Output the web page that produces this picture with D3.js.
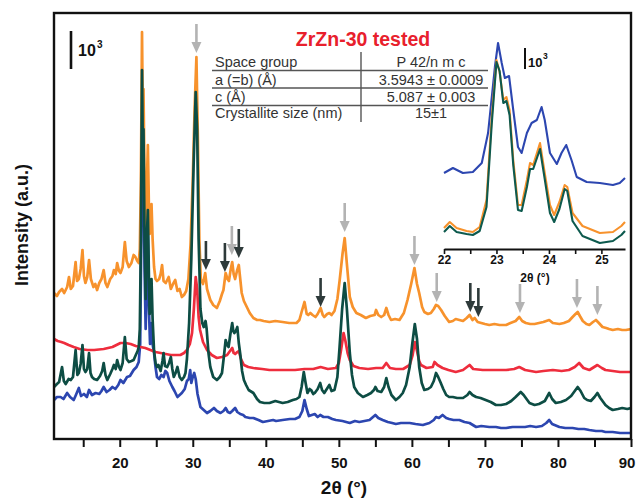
<!DOCTYPE html>
<html><head><meta charset="utf-8">
<script src="https://cdn.jsdelivr.net/npm/d3@7"></script>
<style>
body{margin:0;background:#fff}
svg{display:block}
text{font-family:"Liberation Sans",Arial,Helvetica,sans-serif}
</style>
</head><body>
<svg id="chart" width="636" height="498"></svg>
<script>
// ---------- DATA (2θ in degrees, intensity in arbitrary units) ----------
const orange = [[11.0,146],[11.4,143],[11.7,147],[12.1,150],[12.4,146],[12.8,152],[13.05,162],[13.3,150],[13.6,153],[13.96,177],[14.15,158],[14.4,160],[14.65,170],[14.9,189],[15.1,163],[15.3,156],[15.55,162],[15.8,179],[16.05,160],[16.4,152],[16.65,155],[16.9,149],[17.2,156],[17.5,160],[17.8,169],[18.05,156],[18.3,152],[18.7,160],[19.0,163],[19.2,169],[19.45,165],[19.65,176],[19.9,168],[20.1,166],[20.4,172],[20.7,197],[20.95,178],[21.25,172],[21.6,176],[21.9,184],[22.15,182],[22.4,178],[22.6,176],[22.75,190],[22.9,260],[23.05,407],[23.15,330],[23.25,350],[23.4,260],[23.55,207],[23.7,250],[23.85,294],[24.0,230],[24.1,205],[24.25,222],[24.35,235],[24.5,200],[24.7,172],[24.9,160],[25.1,158],[25.4,160],[25.6,165],[25.8,174],[26.0,158],[26.3,156],[26.7,162],[27.0,150],[27.3,155],[27.6,159],[27.9,148],[28.2,150],[28.5,142],[28.8,144],[29.1,148],[29.4,160],[29.7,195],[30.0,260],[30.25,330],[30.5,382],[30.7,300],[30.9,200],[31.1,160],[31.4,155],[31.7,166],[31.95,150],[32.4,139],[32.8,134],[33.3,131],[33.7,138],[34.0,145],[34.2,149],[34.5,166],[34.75,160],[34.95,158],[35.2,170],[35.4,177],[35.6,165],[35.8,160],[36.05,168],[36.3,174],[36.5,160],[36.7,146],[37.0,138],[37.4,132],[37.8,126],[38.3,121],[38.8,119],[39.2,119],[39.7,118],[40.5,117],[41.3,118],[42.3,117],[43.2,116],[44.2,116],[44.6,119],[44.9,127],[45.3,137],[45.6,125],[45.8,124],[46.1,126],[46.4,124],[46.8,122],[47.1,125],[47.5,131],[47.8,124],[48.0,122],[48.4,125],[48.7,126],[49.0,124],[49.4,128],[49.8,140],[50.1,158],[50.5,185],[50.8,201],[51.1,175],[51.5,142],[51.9,132],[52.4,126],[53.0,124],[53.7,121],[54.3,123],[54.9,124],[55.1,129],[55.4,124],[55.8,122],[56.2,124],[56.5,131],[56.8,124],[57.15,119],[57.7,120],[58.3,119],[58.9,126],[59.4,139],[59.9,155],[60.35,171],[60.7,155],[61.0,146],[61.4,132],[61.7,127],[62.2,125],[62.6,126],[63.0,130],[63.3,134],[63.6,133],[64.0,129],[64.5,123],[64.9,119],[65.1,117],[65.6,118],[66.0,120],[66.5,119],[67.0,118],[67.5,121],[67.9,124],[68.3,119],[68.6,121],[69.0,117],[69.5,116],[70.0,115],[70.6,114],[71.3,115],[72.0,114],[72.9,114],[73.5,116],[74.2,118],[74.7,122],[75.1,118],[75.6,116],[76.2,115],[76.8,115],[77.4,116],[78.0,117],[78.8,119],[79.3,116],[80.2,115],[80.8,116],[81.5,118],[82.0,122],[82.4,125],[82.7,127],[83.0,123],[83.4,118],[83.9,115],[84.3,114],[84.8,117],[85.2,119],[85.6,116],[86.1,112],[86.6,111],[87.0,110],[87.5,109],[88.2,110],[88.8,109],[89.3,109],[90.0,110]];

const red = [[11.0,100],[11.5,98],[12.0,97],[12.4,96],[13.0,94],[13.7,92],[14.5,90],[15.6,89],[16.5,89],[17.8,90],[19.0,92],[20.1,96],[20.8,96],[21.5,95],[22.2,93],[22.85,92],[23.5,91],[24.2,89],[24.9,87],[25.6,86],[26.3,85],[27.0,84],[27.7,84],[28.3,84],[28.8,86],[29.2,89],[29.6,95],[29.9,106],[30.15,130],[30.4,162],[30.6,150],[30.8,122],[31.0,109],[31.4,97],[31.95,89],[32.6,84],[33.3,81],[34.0,82],[34.7,84],[35.1,88],[35.4,91],[35.6,86],[35.8,85],[36.1,87],[36.3,88],[36.6,80],[37.0,74],[37.6,72],[38.3,71],[39.5,70],[40.5,69],[42.3,69],[44.0,69],[45.3,70],[46.5,70],[47.5,72],[48.5,70],[49.6,71],[50.0,76],[50.3,89],[50.65,106],[50.9,98],[51.2,86],[51.5,79],[52.0,73],[52.8,71],[54.0,70],[55.1,71],[56.0,71],[56.5,76],[57.0,71],[57.8,70],[58.8,70],[59.7,74],[60.1,84],[60.4,97],[60.7,88],[61.0,78],[61.25,74],[62.0,71],[62.85,72],[63.1,77],[63.5,74],[64.2,71],[65.0,69],[66.0,67],[67.0,69],[67.9,74],[68.4,70],[69.7,69],[71.0,69],[72.9,69],[74.0,70],[74.7,72],[75.5,69],[77.0,67],[78.0,68],[79.3,69],[80.5,68],[81.5,69],[82.3,72],[82.9,76],[83.5,71],[84.3,69],[85.4,74],[86.0,71],[86.5,69],[87.5,68],[88.5,67],[89.3,67],[90.0,67]];

const green = [[11.0,52],[11.4,55],[11.7,57],[12.1,72],[12.35,58],[12.6,55],[13.0,60],[13.3,59],[13.6,62],[13.96,89],[14.2,64],[14.4,66],[14.65,75],[14.9,94],[15.1,70],[15.3,67],[15.55,70],[15.8,86],[16.0,66],[16.2,62],[16.5,60],[16.9,59],[17.3,63],[17.6,68],[17.8,76],[18.05,64],[18.3,59],[18.7,65],[19.0,70],[19.2,74],[19.45,70],[19.65,79],[19.9,72],[20.1,69],[20.4,76],[20.7,102],[20.95,80],[21.25,77],[21.6,78],[21.9,79],[22.2,84],[22.45,88],[22.6,92],[22.75,110],[22.9,200],[23.05,369],[23.15,300],[23.25,310],[23.4,200],[23.55,140],[23.7,200],[23.85,229],[24.0,160],[24.1,125],[24.25,150],[24.35,160],[24.5,120],[24.7,88],[24.9,76],[25.1,72],[25.3,74],[25.6,68],[25.85,78],[26.0,86],[26.2,73],[26.5,72],[26.75,76],[27.0,82],[27.2,70],[27.4,62],[27.65,66],[27.9,72],[28.2,62],[28.5,59],[28.8,62],[29.0,66],[29.2,80],[29.5,116],[29.8,180],[30.1,270],[30.4,347],[30.6,310],[30.8,200],[31.05,130],[31.3,116],[31.5,112],[31.75,118],[31.9,110],[32.15,86],[32.4,72],[32.8,62],[33.3,59],[33.7,62],[34.0,66],[34.3,85],[34.5,99],[34.7,94],[34.9,92],[35.15,105],[35.4,116],[35.55,108],[35.7,106],[35.9,108],[36.1,112],[36.3,96],[36.5,85],[36.75,68],[37.0,59],[37.3,54],[37.65,49],[38.3,46],[38.8,40],[39.2,37],[39.8,36],[40.5,36],[41.3,38],[42.3,36],[43.0,37],[43.7,39],[44.2,40],[44.6,42],[44.9,52],[45.2,67],[45.45,56],[45.7,46],[46.0,50],[46.2,49],[46.5,45],[46.7,46],[47.1,50],[47.45,56],[47.7,49],[48.0,46],[48.35,50],[48.7,54],[49.0,48],[49.4,49],[49.8,62],[50.1,92],[50.45,130],[50.8,156],[51.1,130],[51.5,86],[51.8,64],[52.1,52],[52.6,46],[53.3,42],[53.9,44],[54.4,46],[54.8,49],[55.0,52],[55.3,48],[55.8,47],[56.2,52],[56.5,61],[56.8,52],[57.2,44],[57.8,39],[58.3,42],[58.75,46],[59.2,54],[59.7,72],[60.05,95],[60.4,115],[60.7,100],[61.0,72],[61.35,56],[61.7,49],[62.2,50],[62.6,52],[63.0,58],[63.3,66],[63.6,62],[63.9,57],[64.3,50],[64.7,44],[65.1,42],[65.6,42],[66.2,41],[67.0,41],[67.6,44],[67.9,47],[68.3,44],[68.8,42],[69.4,41],[70.1,39],[70.8,37],[71.5,34],[72.2,34],[72.9,35],[73.6,38],[74.2,42],[74.9,47],[75.3,44],[75.8,39],[76.1,36],[76.8,34],[77.4,35],[78.2,38],[78.8,46],[79.2,40],[79.7,36],[80.4,37],[81.1,39],[81.8,43],[82.3,48],[82.7,52],[83.1,48],[83.6,41],[84.0,39],[84.5,38],[85.0,42],[85.4,46],[85.8,41],[86.5,34],[87.0,31],[87.5,29],[88.2,30],[88.8,31],[89.5,30],[90.0,31]];

const blue = [[11.0,39],[11.4,42],[11.9,42],[12.3,40],[12.8,46],[13.2,42],[13.7,39],[14.0,44],[14.4,51],[14.7,43],[15.1,45],[15.5,42],[15.8,49],[16.2,44],[16.7,46],[17.2,45],[17.5,48],[17.8,52],[18.2,47],[18.6,49],[19.0,52],[19.4,50],[19.8,54],[20.1,59],[20.5,56],[21.0,62],[21.4,63],[21.9,69],[22.3,72],[22.6,77],[22.8,95],[22.95,200],[23.05,317],[23.15,260],[23.25,265],[23.4,170],[23.55,110],[23.7,160],[23.85,208],[24.0,130],[24.15,95],[24.3,110],[24.35,116],[24.5,95],[24.7,86],[24.9,72],[25.1,62],[25.4,60],[25.7,64],[26.0,62],[26.25,68],[26.5,66],[26.8,58],[27.2,52],[27.5,48],[27.9,42],[28.2,44],[28.5,46],[28.9,50],[29.2,58],[29.45,60],[29.65,69],[29.8,56],[30.0,62],[30.2,66],[30.4,60],[30.65,45],[31.05,32],[31.5,29],[31.95,26],[32.4,28],[32.9,31],[33.3,28],[33.8,26],[34.2,28],[34.5,31],[34.8,27],[35.1,26],[35.4,28],[35.8,31],[36.1,27],[36.5,25],[36.9,24],[37.2,22],[37.8,21],[38.3,21],[39.0,19],[39.6,17],[40.3,18],[41.0,19],[41.4,18],[42.3,19],[43.3,20],[44.0,20],[44.6,22],[45.0,28],[45.3,39],[45.6,30],[45.9,23],[46.3,24],[46.7,25],[47.1,22],[47.45,24],[47.9,22],[48.5,22],[49.1,20],[49.6,19],[50.5,18],[51.5,16],[52.2,18],[52.8,17],[53.5,18],[54.2,19],[55.0,24],[55.4,21],[56.0,19],[56.7,17],[57.3,16],[57.8,15],[58.5,16],[59.2,16],[59.7,16],[60.5,15],[61.5,14],[62.4,16],[63.0,19],[63.3,22],[63.7,21],[64.2,24],[64.7,21],[65.1,20],[65.7,19],[66.5,19],[67.2,17],[67.9,16],[68.8,12],[69.5,13],[70.6,12],[71.5,12],[72.2,11],[72.9,11],[73.8,12],[74.7,12],[75.5,12],[76.2,13],[77.0,12],[77.8,13],[78.4,16],[78.8,19],[79.2,15],[80.2,12],[81.0,11],[82.0,11],[82.8,10],[83.6,10],[84.3,9],[85.2,8],[86.0,8],[86.5,7],[87.5,7],[88.5,6],[89.7,6],[90.0,6]];

// inset (22–25.5°), its own intensity units
const insetBlue = [[22.0,76],[22.17,81],[22.36,76],[22.55,77],[22.72,86],[22.84,116],[22.97,182],[23.03,206],[23.1,186],[23.16,171],[23.24,173],[23.32,139],[23.41,102],[23.48,96],[23.58,116],[23.67,126],[23.77,129],[23.86,142],[23.92,129],[24.02,96],[24.15,85],[24.24,96],[24.33,104],[24.43,89],[24.53,72],[24.72,67],[24.97,66],[25.22,64],[25.35,66],[25.45,71]];
const insetOrange = [[22.0,21],[22.11,27],[22.24,21],[22.43,18],[22.55,17],[22.68,22],[22.81,49],[22.91,132],[23.0,189],[23.06,177],[23.13,149],[23.19,152],[23.25,139],[23.32,89],[23.41,44],[23.48,44],[23.58,69],[23.64,86],[23.7,84],[23.83,106],[23.92,76],[24.02,44],[24.1,34],[24.2,47],[24.3,64],[24.35,62],[24.45,36],[24.64,23],[24.97,16],[25.22,17],[25.38,23],[25.45,27]];
const insetGreen = [[22.0,17],[22.11,23],[22.24,17],[22.43,15],[22.55,14],[22.68,18],[22.81,42],[22.91,125],[23.0,187],[23.06,178],[23.13,146],[23.19,148],[23.25,134],[23.32,84],[23.41,39],[23.48,38],[23.58,62],[23.64,80],[23.7,80],[23.83,100],[23.92,70],[24.02,36],[24.1,27],[24.2,40],[24.3,60],[24.35,58],[24.45,28],[24.64,13],[24.97,6],[25.22,8],[25.38,14],[25.45,18]];

// reflection markers: [2θ, intensity at arrow tip]
const grayArrows = [[30.5,386],[35.35,184],[50.8,207],[60.35,174],[63.4,137],[74.8,126],[82.6,131],[85.4,124]];
const darkArrows = [[31.8,169],[34.4,167],[36.3,181],[47.5,132],[68.0,127],[69.1,122]];

const xTicks = [15,20,25,30,35,40,45,50,55,60,65,70,75,80,85,90];
const insetTicks = [22,22.5,23,23.5,24,24.5,25,25.5];

const tableRows = [["Space group","P 42/n m c"],["a (=b) (Å)","3.5943 ± 0.0009"],["c (Å)","5.087 ± 0.003"],["Crystallite size (nm)","15±1"]];
const titleText = "ZrZn-30 tested";

// ---------- DRAW ----------
const svg = d3.select("#chart");
const L = 54, R = 631, T = 13, B = 439;
const x = d3.scaleLinear().domain([11, 90]).range([L, R]);
const y = d3.scaleLinear().domain([0, 426]).range([B, T]);

svg.append("rect").attr("width",636).attr("height",498).attr("fill","#fff");

svg.append("defs").append("clipPath").attr("id","clip")
  .append("rect").attr("x",L).attr("y",T).attr("width",R-L).attr("height",B-T);

const line = d3.line().x(d=>x(d[0])).y(d=>y(d[1]));
const plot = svg.append("g").attr("clip-path","url(#clip)");
const series = [
  {d: blue, c: "#2c46b0"},
  {d: orange, c: "#f7922c"},
  {d: red, c: "#ee2d3d"},
  {d: green, c: "#0d4d44"}
];
series.forEach(s => plot.append("path").datum(s.d).attr("d", line)
  .attr("fill","none").attr("stroke", s.c).attr("stroke-width", 2.7)
  .attr("stroke-linejoin","round"));

// arrows
function arrow(g, d, color) {
  const xp = x(d[0]), yt = y(d[1]);
  const len = 29, hl = 11, hw = 5;
  g.append("line").attr("x1",xp).attr("x2",xp).attr("y1",yt-len).attr("y2",yt-hl+1)
    .attr("stroke",color).attr("stroke-width",2.6);
  g.append("path").attr("d",`M${xp-hw},${yt-hl} L${xp+hw},${yt-hl} L${xp},${yt} Z`).attr("fill",color);
}
const ag = svg.append("g");
grayArrows.forEach(d => arrow(ag, d, "#b3b3b3"));
darkArrows.forEach(d => arrow(ag, d, "#2e3a3a"));

// x axis
const xAxis = d3.axisBottom(x).tickValues(xTicks)
  .tickFormat(d => d % 10 === 0 ? d : "").tickSize(8).tickSizeOuter(0).tickPadding(10);
const gx = svg.append("g").attr("transform",`translate(0,${B})`).call(xAxis);
gx.select(".domain").remove();
gx.selectAll(".tick line").attr("stroke","#111").attr("stroke-width",2);
gx.selectAll(".tick text").attr("fill","#111").style("font-size","15px").style("font-weight","bold")
  .style("font-family","'Liberation Sans',Arial,sans-serif")
  .attr("dx", d => d === 90 ? "-4.5" : 0);

// frame
svg.append("rect").attr("x",L).attr("y",T).attr("width",R-L).attr("height",B-T)
  .attr("fill","none").attr("stroke","#111").attr("stroke-width",2.4);

// axis titles
svg.append("text").attr("x",344).attr("y",494).attr("text-anchor","middle")
  .style("font-size","19px").style("font-weight","bold").attr("fill","#111").text("2θ (°)");
svg.append("text").attr("transform","translate(28,225) rotate(-90)").attr("text-anchor","middle")
  .style("font-size","18px").style("font-weight","bold").attr("fill","#111").text("Intensity (a.u.)");

// main scale bar 10^3
svg.append("line").attr("x1",71).attr("x2",71).attr("y1",31).attr("y2",69).attr("stroke","#111").attr("stroke-width",2.6);
svg.append("text").attr("x",78).attr("y",56).style("font-size","16px").style("font-weight","bold").attr("fill","#111").text("10");
svg.append("text").attr("x",97).attr("y",48).style("font-size","10px").style("font-weight","bold").attr("fill","#111").text("3");

// title
svg.append("text").attr("x",363).attr("y",46).attr("text-anchor","middle")
  .style("font-size","19.5px").style("font-weight","bold").attr("fill","#e8202c").text(titleText);

// table
const rowBase = [66.5, 84.5, 101.5, 118];
const sepY = [70.5, 88, 105.5];
const tg = svg.append("g");
tableRows.forEach((r,i) => {
  tg.append("text").attr("x",215).attr("y",rowBase[i]).style("font-size","14.5px").attr("fill","#333").text(r[0]);
  tg.append("text").attr("x",431).attr("y",rowBase[i]).attr("text-anchor","middle").style("font-size","14.5px").attr("fill","#333").text(r[1]);
});
sepY.forEach(s => tg.append("line").attr("x1",212).attr("x2",488).attr("y1",s).attr("y2",s).attr("stroke","#555").attr("stroke-width",1.4));
tg.append("line").attr("x1",361).attr("x2",361).attr("y1",52).attr("y2",122).attr("stroke","#555").attr("stroke-width",1.4);

// inset
const ix = d3.scaleLinear().domain([22, 25.45]).range([444, 625]);
const iy = d3.scaleLinear().domain([0, 209]).range([249, 40]);
const iline = d3.line().x(d=>ix(d[0])).y(d=>iy(d[1]));
const ig = svg.append("g");
[{d: insetBlue, c:"#2c46b0"},{d: insetOrange, c:"#f7922c"},{d: insetGreen, c:"#0d5a4e"}].forEach(s =>
  ig.append("path").datum(s.d).attr("d", iline).attr("fill","none").attr("stroke",s.c)
    .attr("stroke-width",2.1).attr("stroke-linejoin","round"));
const iAxis = d3.axisBottom(ix).tickValues(insetTicks.filter(t => t <= 25.45))
  .tickFormat(d => Number.isInteger(d) ? d : "").tickSize(5).tickSizeOuter(0).tickPadding(1);
const gix = ig.append("g").attr("transform","translate(0,249)").call(iAxis);
gix.select(".domain").attr("stroke","#111").attr("stroke-width",1.8);
gix.selectAll(".tick line").attr("stroke","#111").attr("stroke-width",1.6);
gix.selectAll(".tick text").attr("fill","#111").style("font-size","12px").style("font-weight","bold")
  .style("font-family","'Liberation Sans',Arial,sans-serif");
ig.append("text").attr("x",535).attr("y",282).attr("text-anchor","middle")
  .style("font-size","12px").style("font-weight","bold").attr("fill","#111").text("2θ (°)");
ig.append("line").attr("x1",525).attr("x2",525).attr("y1",48).attr("y2",69).attr("stroke","#111").attr("stroke-width",2);
ig.append("text").attr("x",528).attr("y",67).style("font-size","13px").style("font-weight","bold").attr("fill","#111").text("10");
ig.append("text").attr("x",543).attr("y",59).style("font-size","8.5px").style("font-weight","bold").attr("fill","#111").text("3");
</script>
</body></html>
